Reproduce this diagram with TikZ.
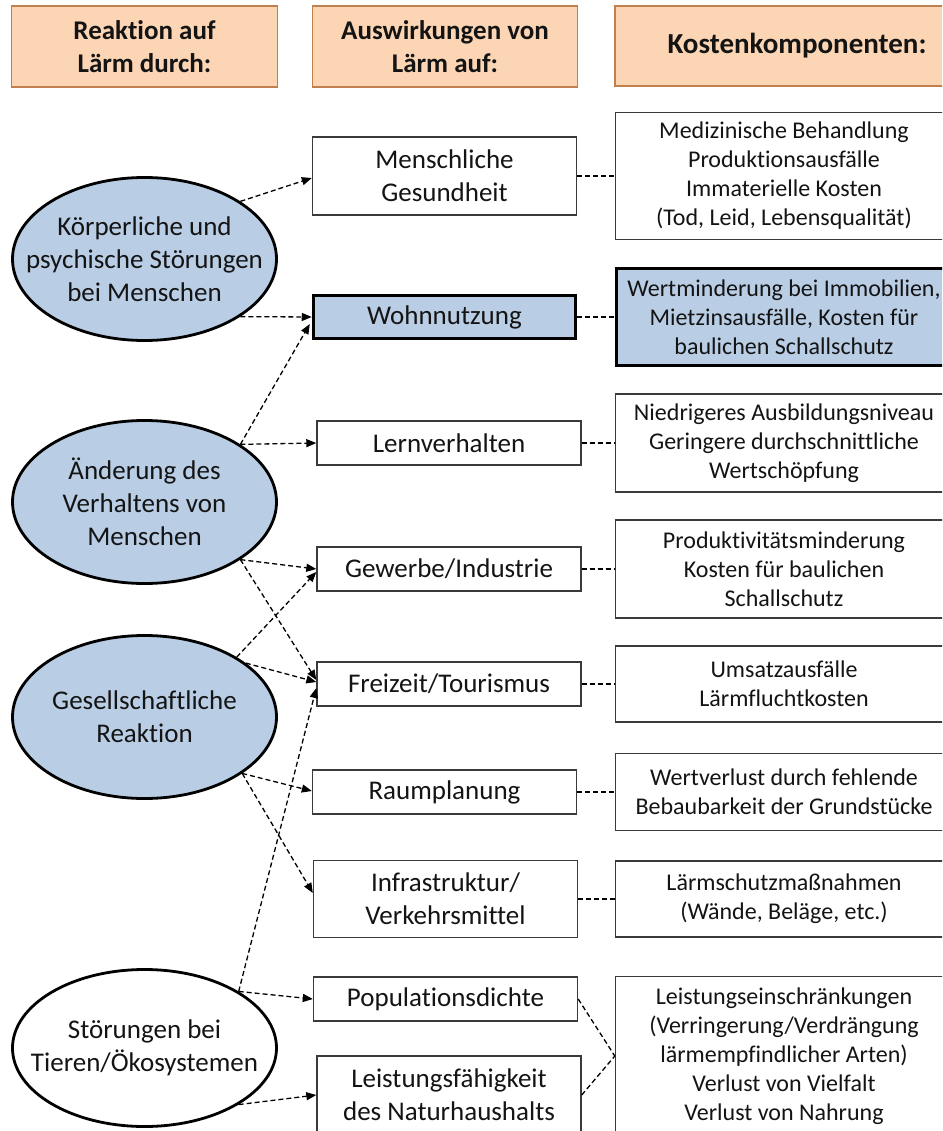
\documentclass[tikz,border=0pt]{standalone}
\usepackage{fontspec}
\setmainfont{Carlito}[Ligatures={NoCommon,NoContextual}]
\usetikzlibrary{shapes.geometric,arrows.meta,calc}
\definecolor{hdrfill}{HTML}{FCD5B5}
\definecolor{hdrline}{HTML}{C0804D}
\definecolor{eblue}{HTML}{B9CDE5}
\definecolor{boxline}{HTML}{3A3A3A}
\definecolor{txtcol}{HTML}{141414}
\begin{document}
\begin{tikzpicture}[x=1pt,y=-1pt,
  txt/.style={font=\fontsize{27}{33}\selectfont, align=center, text=txtcol, inner sep=0pt},
  ctxt/.style={font=\fontsize{24}{29}\selectfont, align=center, text=txtcol, inner sep=0pt},
  hdr/.style={draw=hdrline, fill=hdrfill, line width=1.2pt, font=\fontsize{27}{33}\selectfont\bfseries,
              align=center, text=txtcol, inner sep=0pt, minimum height=81pt},
  ell/.style={ellipse, draw=black, line width=2.8pt, minimum width=264pt, minimum height=163pt, inner sep=0pt},
  mbox/.style={txt, draw=boxline, line width=1.4pt, fill=white, minimum width=264pt},
  cbox/.style={ctxt, draw=boxline, line width=1.4pt, fill=white, minimum width=337pt},
  hbox/.style={draw=black, line width=3.5pt, fill=eblue},
  arr/.style={draw=black, line width=1.3pt, dash pattern=on 5pt off 3pt, -{Triangle[length=10pt,width=8pt]}},
  lnk/.style={draw=black, line width=1.3pt, dash pattern=on 5pt off 3pt}
]
\path[use as bounding box, clip] (0,0) rectangle (942,1131);
\fill[white] (0,0) rectangle (942,1131);

% headers
\node[hdr, minimum width=266pt] (h1) at (144.5,46.5) {Reaktion auf\\Lärm durch:};
\node[hdr, minimum width=265pt] (h2) at (445,46.5) {Auswirkungen von\\Lärm auf:};
\node[hdr, minimum width=364pt, minimum height=80pt, font=\fontsize{29}{35}\selectfont\bfseries] (h3) at (797,46) {Kostenkomponenten:};

% ellipses
\node[ell, fill=eblue] (e1) at (144.5,259) {};
\node[txt] (e1t) at (e1) {Körperliche und\\psychische Störungen\\bei Menschen};
\node[ell, fill=eblue] (e2) at (144.5,502) {};
\node[txt] (e2t) at (e2) {Änderung des\\Verhaltens von\\Menschen};
\node[ell, fill=eblue] (e3) at (144.5,717) {};
\node[txt] (e3t) at (e3) {Gesellschaftliche\\Reaktion};
\node[ell, fill=white, minimum height=157pt] (e4) at (144.5,1048) {};
\node[txt] (e4t) at (e4) {Störungen bei\\Tieren/Ökosystemen};

% middle boxes
\node[mbox, minimum height=78pt] (mg) at (444.5,176) {Menschliche\\Gesundheit};
\node[mbox, hbox, minimum width=262pt, minimum height=43pt] (wo) at (444.5,317) {Wohnnutzung};
\node[mbox, minimum height=44pt] (le) at (449,443) {Lernverhalten};
\node[mbox, minimum height=44pt] (ge) at (449,569) {Gewerbe/Industrie};
\node[mbox, minimum height=44pt] (fr) at (449,684) {Freizeit/Tourismus};
\node[mbox, minimum height=44pt] (ra) at (444.5,792) {Raumplanung};
\node[mbox, minimum height=77pt] (in) at (445.5,899) {Infrastruktur/\\Verkehrsmittel};
\node[mbox, minimum height=44pt] (po) at (445.5,999) {Populationsdichte};
\node[mbox, minimum height=78pt] (lf) at (449,1095) {Leistungsfähigkeit\\des Naturhaushalts};

% cost boxes
\node[cbox, minimum height=127pt] (c1) at (784,176) {Medizinische Behandlung\\Produktionsausfälle\\Immaterielle Kosten\\(Tod, Leid, Lebensqualität)};
\node[cbox, hbox, minimum width=335pt, minimum height=97pt] (c2) at (784,317) {Wertminderung bei Immobilien,\\Mietzinsausfälle, Kosten für\\baulichen Schallschutz};
\node[cbox, minimum height=98pt] (c3) at (784,443) {Niedrigeres Ausbildungsniveau\\Geringere durchschnittliche\\Wertschöpfung};
\node[cbox, minimum height=98pt] (c4) at (784,569) {Produktivitätsminderung\\Kosten für baulichen\\Schallschutz};
\node[cbox, minimum height=76pt] (c5) at (784,684) {Umsatzausfälle\\Lärmfluchtkosten};
\node[cbox, minimum height=77pt] (c6) at (784,792) {Wertverlust durch fehlende\\Bebaubarkeit der Grundstücke};
\node[cbox, minimum height=76pt] (c7) at (784,899) {Lärmschutzmaßnahmen\\(Wände, Beläge, etc.)};
\node[cbox, minimum height=159pt] (c8) at (784,1056) {Leistungseinschränkungen\\(Verringerung/Verdrängung\\lärmempfindlicher Arten)\\Verlust von Vielfalt\\Verlust von Nahrung};

% arrows from reactions to effects
\draw[arr] (e1.31) -- ($(mg.west)+(0,2)$);
\draw[arr] (e1.-31) -- (wo.west);
\draw[arr] (e2.31) -- ($(wo.west)+(-2,7)$);
\draw[arr] (e2.31) -- (le.west);
\draw[arr] (e2.-31) -- (ge.west);
\draw[arr] (e2.-31) -- ($(fr.west)+(0,-4)$);
\draw[arr] (e3.33) -- ($(ge.west)+(0,3)$);
\draw[arr] (e3.28) -- ($(fr.west)+(0,-2)$);
\draw[arr] (e3.-30) -- ($(ra.west)+(0,-1)$);
\draw[arr] (e3.-30) -- ($(in.west)+(0,-6)$);
\draw[arr] (e4.31) -- ($(fr.west)+(0,4)$);
\draw[arr] (e4.31) -- (po.west);
\draw[arr] (e4.-31) -- (lf.west);

% links from effects to costs
\draw[lnk] (mg.east) -- (c1.west);
\draw[lnk] (wo.east) -- (c2.west);
\draw[lnk] (le.east) -- (c3.west);
\draw[lnk] (ge.east) -- (c4.west);
\draw[lnk] (fr.east) -- (c5.west);
\draw[lnk] (ra.east) -- (c6.west);
\draw[lnk] (in.east) -- (c7.west);
\draw[lnk] (po.east) -- (c8.west);
\draw[lnk] (lf.east) -- (c8.west);
\end{tikzpicture}
\end{document}
